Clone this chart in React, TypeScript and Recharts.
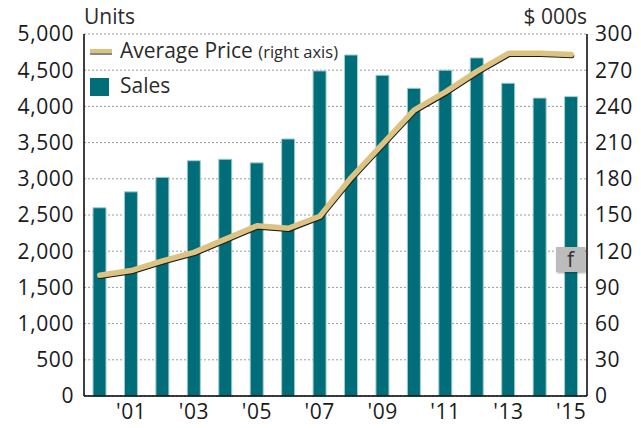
import { ComposedChart, Bar, Line, XAxis, YAxis, CartesianGrid } from "recharts";

const years = ["2000", "2001", "2002", "2003", "2004", "2005", "2006", "2007", "2008", "2009", "2010", "2011", "2012", "2013", "2014", "2015"];
const sales = [2600, 2820, 3020, 3250, 3270, 3220, 3550, 4490, 4710, 4430, 4250, 4500, 4670, 4320, 4115, 4135];
const avgPrice = [100, 104, 112, 119, 130, 141, 139, 149, 181, 209, 237, 252, 269, 284, 284, 283];
const leftTicks = [0, 500, 1000, 1500, 2000, 2500, 3000, 3500, 4000, 4500, 5000];
const rightTicks = [0, 30, 60, 90, 120, 150, 180, 210, 240, 270, 300];

const TEAL = "#006d78";
const GOLD = "#dcc382";
const FONT = "'Open Sans', sans-serif";

const data = years.map((y, i) => ({ year: y, sales: sales[i], price: avgPrice[i] }));

const tick = { fontSize: 21, fill: "#1a1a1a", fontFamily: FONT, letterSpacing: 0.6 };

export default function App() {
  return (
    <div style={{ position: "absolute", left: 0, top: 0, width: 641, height: 428, background: "#fff", fontFamily: FONT }}>
      <style>{`.price-shadow path { transform: translate(0.6px, 1.3px); }`}</style>
      <ComposedChart width={641} height={428} data={data} margin={{ top: 34, right: 0, left: 0, bottom: 0 }}>
        <CartesianGrid vertical={false} yAxisId="left" stroke="#9a9a9a" strokeDasharray="2 2" />
        <XAxis
          dataKey="year"
          height={32}
          interval={0}
          tickLine={false}
          axisLine={{ stroke: "#000", strokeWidth: 1.5 }}
          tick={tick}
          tickMargin={2}
          tickFormatter={(v: string, i: number) => (i % 2 === 1 ? "'" + v.slice(2) : "")}
        />
        <YAxis
          yAxisId="left"
          width={84}
          domain={[0, 5000]}
          ticks={leftTicks}
          interval={0}
          tickLine={false}
          axisLine={{ stroke: "#000", strokeWidth: 1.5 }}
          tick={tick}
          tickMargin={4}
          tickFormatter={(v: number) => v.toLocaleString("en-US")}
        />
        <YAxis
          yAxisId="right"
          orientation="right"
          width={54}
          domain={[0, 300]}
          ticks={rightTicks}
          interval={0}
          tickLine={false}
          axisLine={{ stroke: "#000", strokeWidth: 1.5 }}
          tick={{ ...tick, textAnchor: "start" }}
          tickMargin={2}
        />
        <Bar yAxisId="left" dataKey="sales" barSize={13} fill={TEAL} stroke="#9fcdd1" strokeWidth={1} isAnimationActive={false} />
        <Line
          yAxisId="right"
          className="price-shadow"
          dataKey="price"
          stroke="#1c1c1c"
          strokeWidth={5}
          strokeLinecap="round"
          strokeLinejoin="round"
          dot={false}
          activeDot={false}
          type="linear"
          isAnimationActive={false}
        />
        <Line
          yAxisId="right"
          dataKey="price"
          stroke={GOLD}
          strokeWidth={5.5}
          strokeLinecap="round"
          strokeLinejoin="round"
          dot={false}
          activeDot={false}
          type="linear"
          isAnimationActive={false}
        />
      </ComposedChart>

      <div style={{ position: "absolute", left: 84, top: 2, fontSize: 21, color: "#2a2a2a" }}>Units</div>
      <div style={{ position: "absolute", right: 54, top: 2, fontSize: 21, color: "#2a2a2a" }}>$ 000s</div>

      <div style={{ position: "absolute", left: 90, top: 49, width: 22, height: 4, background: GOLD, borderBottom: "2px solid #8a8a80" }} />
      <div style={{ position: "absolute", left: 120, top: 36, fontSize: 21, color: "#2a2a2a", whiteSpace: "nowrap" }}>
        Average Price <span style={{ fontSize: 16.5 }}>(right axis)</span>
      </div>
      <div style={{ position: "absolute", left: 90, top: 78, width: 19, height: 18, background: TEAL }} />
      <div style={{ position: "absolute", left: 120, top: 71, fontSize: 21, color: "#2a2a2a" }}>Sales</div>

      <div
        style={{
          position: "absolute",
          left: 556,
          top: 247,
          width: 29,
          height: 25,
          background: "#bcbcbc",
          boxShadow: "1px 1px 2px rgba(0,0,0,0.35)",
          fontSize: 21,
          color: "#333",
          textAlign: "center",
          lineHeight: "24px",
        }}
      >
        f
      </div>
    </div>
  );
}
